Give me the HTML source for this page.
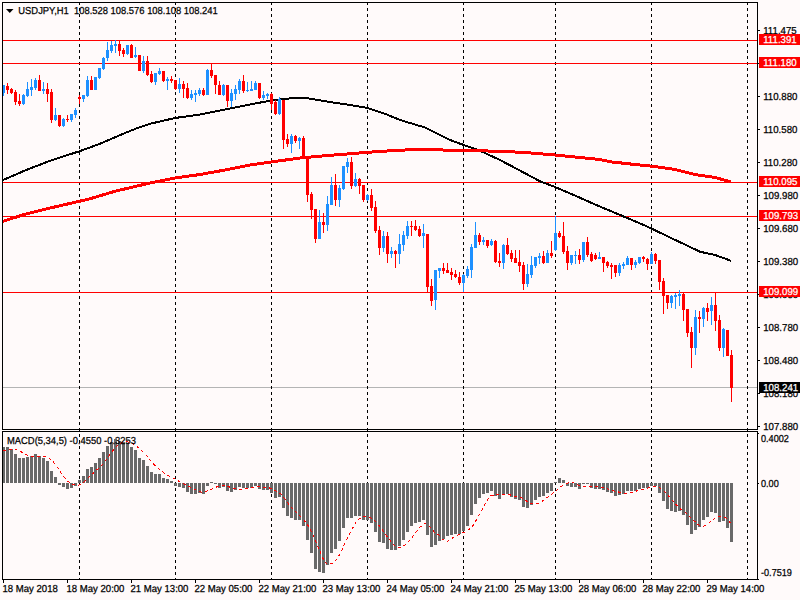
<!DOCTYPE html>
<html><head><meta charset="utf-8"><title>USDJPY,H1</title>
<style>
html,body{margin:0;padding:0;background:#fffafa;}
body{width:800px;height:600px;overflow:hidden;}
svg{display:block;}
text{font-family:"Liberation Sans",sans-serif;font-size:10.15px;fill:#000;stroke:#000;stroke-width:0.25px;text-rendering:geometricPrecision;}
.w{fill:#fff;stroke:#fff;}
.ce{shape-rendering:crispEdges;}
</style></head><body>
<svg width="800" height="600" viewBox="0 0 800 600">
<rect x="0" y="0" width="800" height="600" fill="#fffafa"/>
<rect class="ce" x="3" y="387" width="754" height="1" fill="#b4b4b4"/>
<g class="ce">
<line x1="79.5" y1="2" x2="79.5" y2="580" stroke="#000" stroke-width="1" stroke-dasharray="3 3"/>
<line x1="175.5" y1="2" x2="175.5" y2="580" stroke="#000" stroke-width="1" stroke-dasharray="3 3"/>
<line x1="271.5" y1="2" x2="271.5" y2="580" stroke="#000" stroke-width="1" stroke-dasharray="3 3"/>
<line x1="367.5" y1="2" x2="367.5" y2="580" stroke="#000" stroke-width="1" stroke-dasharray="3 3"/>
<line x1="463.5" y1="2" x2="463.5" y2="580" stroke="#000" stroke-width="1" stroke-dasharray="3 3"/>
<line x1="555.5" y1="2" x2="555.5" y2="580" stroke="#000" stroke-width="1" stroke-dasharray="3 3"/>
<line x1="651.5" y1="2" x2="651.5" y2="580" stroke="#000" stroke-width="1" stroke-dasharray="3 3"/>
<line x1="747.5" y1="2" x2="747.5" y2="580" stroke="#000" stroke-width="1" stroke-dasharray="3 3"/>
</g>
<rect class="ce" x="3" y="40" width="754" height="1" fill="#ff0000"/>
<rect class="ce" x="3" y="63" width="754" height="1" fill="#ff0000"/>
<rect class="ce" x="3" y="182" width="754" height="1" fill="#ff0000"/>
<rect class="ce" x="3" y="216" width="754" height="1" fill="#ff0000"/>
<rect class="ce" x="3" y="292" width="754" height="1" fill="#ff0000"/>
<path class="ce" d="M3.00 180.00 L25.00 170.50 L50.00 160.75 L79.50 151.25 L100.00 143.75 L125.00 133.00 L137.50 128.00 L150.00 123.75 L175.00 118.00 L200.00 114.50 L225.00 109.50 L250.00 104.50 L271.00 100.50 L285.00 98.75 L300.00 97.75 L307.50 98.25 L325.00 101.25 L350.00 105.00 L367.50 108.00 L385.00 113.75 L400.00 120.00 L425.00 127.50 L450.00 140.00 L463.75 145.00 L480.00 150.75 L500.00 160.00 L525.00 173.25 L540.00 181.25 L555.00 187.00 L575.00 195.50 L595.00 204.50 L610.00 210.75 L635.00 221.25 L651.00 228.25 L672.50 238.75 L685.00 244.50 L700.00 251.75 L715.00 255.00 L731.00 260.75" fill="none" stroke="#000" stroke-width="2" stroke-linejoin="round"/>
<path class="ce" d="M3.00 221.25 L25.00 214.25 L50.00 208.00 L79.50 201.25 L90.00 198.75 L115.00 191.25 L150.00 183.00 L175.00 178.00 L200.00 174.50 L225.00 170.00 L250.00 165.00 L271.00 162.00 L300.00 158.00 L325.00 155.75 L350.00 153.75 L375.00 151.75 L400.00 150.25 L420.00 149.25 L450.00 150.25 L475.00 150.75 L500.00 151.25 L525.00 152.50 L555.00 155.00 L575.00 157.00 L600.00 159.50 L610.00 161.75 L635.00 164.50 L655.00 166.50 L675.00 169.50 L695.00 174.50 L715.00 177.50 L731.00 182.00" fill="none" stroke="#ff0000" stroke-width="3" stroke-linejoin="round"/>
<g class="ce">
<rect x="3" y="85" width="1" height="11" fill="#1e90ff"/>
<rect x="2" y="85" width="3" height="8" fill="#1e90ff"/>
<rect x="7" y="83" width="1" height="11" fill="#ff0000"/>
<rect x="6" y="86" width="3" height="4" fill="#ff0000"/>
<rect x="11" y="88" width="1" height="6" fill="#ff0000"/>
<rect x="10" y="89" width="3" height="4" fill="#ff0000"/>
<rect x="15" y="90" width="1" height="15" fill="#ff0000"/>
<rect x="14" y="92" width="3" height="10" fill="#ff0000"/>
<rect x="19" y="94" width="1" height="12" fill="#ff0000"/>
<rect x="18" y="101" width="3" height="3" fill="#ff0000"/>
<rect x="23" y="94" width="1" height="11" fill="#1e90ff"/>
<rect x="22" y="95" width="3" height="9" fill="#1e90ff"/>
<rect x="27" y="82" width="1" height="15" fill="#1e90ff"/>
<rect x="26" y="89" width="3" height="7" fill="#1e90ff"/>
<rect x="31" y="79" width="1" height="17" fill="#1e90ff"/>
<rect x="30" y="87" width="3" height="3" fill="#1e90ff"/>
<rect x="35" y="78" width="1" height="12" fill="#1e90ff"/>
<rect x="34" y="80" width="3" height="8" fill="#1e90ff"/>
<rect x="39" y="75" width="1" height="16" fill="#ff0000"/>
<rect x="38" y="80" width="3" height="11" fill="#ff0000"/>
<rect x="43" y="82" width="1" height="12" fill="#1e90ff"/>
<rect x="42" y="89" width="3" height="2" fill="#1e90ff"/>
<rect x="47" y="83" width="1" height="19" fill="#ff0000"/>
<rect x="46" y="89" width="3" height="5" fill="#ff0000"/>
<rect x="51" y="89" width="1" height="34" fill="#ff0000"/>
<rect x="50" y="92" width="3" height="28" fill="#ff0000"/>
<rect x="55" y="108" width="1" height="13" fill="#1e90ff"/>
<rect x="54" y="115" width="3" height="5" fill="#1e90ff"/>
<rect x="59" y="115" width="1" height="12" fill="#ff0000"/>
<rect x="58" y="115" width="3" height="11" fill="#ff0000"/>
<rect x="63" y="118" width="1" height="9" fill="#1e90ff"/>
<rect x="62" y="119" width="3" height="7" fill="#1e90ff"/>
<rect x="67" y="115" width="1" height="7" fill="#ff0000"/>
<rect x="66" y="119" width="3" height="1" fill="#ff0000"/>
<rect x="71" y="114" width="1" height="8" fill="#1e90ff"/>
<rect x="70" y="114" width="3" height="6" fill="#1e90ff"/>
<rect x="75" y="108" width="1" height="10" fill="#1e90ff"/>
<rect x="74" y="110" width="3" height="5" fill="#1e90ff"/>
<rect x="79" y="95" width="1" height="9" fill="#ff0000"/>
<rect x="78" y="97" width="3" height="2" fill="#ff0000"/>
<rect x="83" y="95" width="1" height="7" fill="#1e90ff"/>
<rect x="82" y="95" width="3" height="4" fill="#1e90ff"/>
<rect x="87" y="76" width="1" height="21" fill="#1e90ff"/>
<rect x="86" y="80" width="3" height="16" fill="#1e90ff"/>
<rect x="91" y="76" width="1" height="14" fill="#ff0000"/>
<rect x="90" y="80" width="3" height="10" fill="#ff0000"/>
<rect x="95" y="77" width="1" height="13" fill="#1e90ff"/>
<rect x="94" y="77" width="3" height="13" fill="#1e90ff"/>
<rect x="99" y="68" width="1" height="11" fill="#1e90ff"/>
<rect x="98" y="68" width="3" height="10" fill="#1e90ff"/>
<rect x="103" y="57" width="1" height="13" fill="#1e90ff"/>
<rect x="102" y="58" width="3" height="11" fill="#1e90ff"/>
<rect x="107" y="42" width="1" height="19" fill="#1e90ff"/>
<rect x="106" y="50" width="3" height="8" fill="#1e90ff"/>
<rect x="111" y="41" width="1" height="12" fill="#1e90ff"/>
<rect x="110" y="45" width="3" height="6" fill="#1e90ff"/>
<rect x="115" y="40" width="1" height="13" fill="#1e90ff"/>
<rect x="114" y="44" width="3" height="2" fill="#1e90ff"/>
<rect x="119" y="41" width="1" height="15" fill="#ff0000"/>
<rect x="118" y="44" width="3" height="7" fill="#ff0000"/>
<rect x="123" y="48" width="1" height="9" fill="#ff0000"/>
<rect x="122" y="50" width="3" height="4" fill="#ff0000"/>
<rect x="127" y="45" width="1" height="10" fill="#1e90ff"/>
<rect x="126" y="45" width="3" height="9" fill="#1e90ff"/>
<rect x="131" y="44" width="1" height="14" fill="#ff0000"/>
<rect x="130" y="45" width="3" height="13" fill="#ff0000"/>
<rect x="135" y="47" width="1" height="11" fill="#1e90ff"/>
<rect x="134" y="55" width="3" height="2" fill="#1e90ff"/>
<rect x="139" y="55" width="1" height="16" fill="#ff0000"/>
<rect x="138" y="55" width="3" height="16" fill="#ff0000"/>
<rect x="143" y="56" width="1" height="17" fill="#1e90ff"/>
<rect x="142" y="61" width="3" height="10" fill="#1e90ff"/>
<rect x="147" y="56" width="1" height="20" fill="#ff0000"/>
<rect x="146" y="61" width="3" height="14" fill="#ff0000"/>
<rect x="151" y="71" width="1" height="12" fill="#ff0000"/>
<rect x="150" y="74" width="3" height="8" fill="#ff0000"/>
<rect x="155" y="73" width="1" height="12" fill="#1e90ff"/>
<rect x="154" y="73" width="3" height="9" fill="#1e90ff"/>
<rect x="159" y="68" width="1" height="7" fill="#1e90ff"/>
<rect x="158" y="71" width="3" height="3" fill="#1e90ff"/>
<rect x="163" y="71" width="1" height="11" fill="#ff0000"/>
<rect x="162" y="71" width="3" height="10" fill="#ff0000"/>
<rect x="167" y="77" width="1" height="13" fill="#1e90ff"/>
<rect x="166" y="79" width="3" height="2" fill="#1e90ff"/>
<rect x="171" y="76" width="1" height="7" fill="#ff0000"/>
<rect x="170" y="79" width="3" height="2" fill="#ff0000"/>
<rect x="175" y="80" width="1" height="10" fill="#ff0000"/>
<rect x="174" y="80" width="3" height="9" fill="#ff0000"/>
<rect x="179" y="78" width="1" height="15" fill="#1e90ff"/>
<rect x="178" y="84" width="3" height="5" fill="#1e90ff"/>
<rect x="183" y="81" width="1" height="17" fill="#ff0000"/>
<rect x="182" y="84" width="3" height="5" fill="#ff0000"/>
<rect x="187" y="83" width="1" height="16" fill="#ff0000"/>
<rect x="186" y="88" width="3" height="10" fill="#ff0000"/>
<rect x="191" y="90" width="1" height="10" fill="#1e90ff"/>
<rect x="190" y="94" width="3" height="4" fill="#1e90ff"/>
<rect x="195" y="90" width="1" height="12" fill="#1e90ff"/>
<rect x="194" y="93" width="3" height="2" fill="#1e90ff"/>
<rect x="199" y="88" width="1" height="8" fill="#1e90ff"/>
<rect x="198" y="90" width="3" height="4" fill="#1e90ff"/>
<rect x="203" y="88" width="1" height="8" fill="#ff0000"/>
<rect x="202" y="90" width="3" height="5" fill="#ff0000"/>
<rect x="207" y="69" width="1" height="26" fill="#1e90ff"/>
<rect x="206" y="70" width="3" height="25" fill="#1e90ff"/>
<rect x="211" y="64" width="1" height="14" fill="#ff0000"/>
<rect x="210" y="70" width="3" height="6" fill="#ff0000"/>
<rect x="215" y="75" width="1" height="19" fill="#ff0000"/>
<rect x="214" y="75" width="3" height="10" fill="#ff0000"/>
<rect x="219" y="81" width="1" height="14" fill="#ff0000"/>
<rect x="218" y="85" width="3" height="10" fill="#ff0000"/>
<rect x="223" y="84" width="1" height="12" fill="#1e90ff"/>
<rect x="222" y="85" width="3" height="10" fill="#1e90ff"/>
<rect x="227" y="85" width="1" height="22" fill="#ff0000"/>
<rect x="226" y="85" width="3" height="16" fill="#ff0000"/>
<rect x="231" y="89" width="1" height="18" fill="#1e90ff"/>
<rect x="230" y="93" width="3" height="8" fill="#1e90ff"/>
<rect x="235" y="85" width="1" height="15" fill="#1e90ff"/>
<rect x="234" y="89" width="3" height="5" fill="#1e90ff"/>
<rect x="239" y="79" width="1" height="15" fill="#1e90ff"/>
<rect x="238" y="81" width="3" height="9" fill="#1e90ff"/>
<rect x="243" y="75" width="1" height="18" fill="#ff0000"/>
<rect x="242" y="81" width="3" height="10" fill="#ff0000"/>
<rect x="247" y="82" width="1" height="10" fill="#1e90ff"/>
<rect x="246" y="90" width="3" height="1" fill="#1e90ff"/>
<rect x="251" y="81" width="1" height="10" fill="#1e90ff"/>
<rect x="250" y="89" width="3" height="2" fill="#1e90ff"/>
<rect x="255" y="81" width="1" height="9" fill="#1e90ff"/>
<rect x="254" y="83" width="3" height="7" fill="#1e90ff"/>
<rect x="259" y="83" width="1" height="16" fill="#ff0000"/>
<rect x="258" y="83" width="3" height="15" fill="#ff0000"/>
<rect x="263" y="91" width="1" height="9" fill="#1e90ff"/>
<rect x="262" y="95" width="3" height="3" fill="#1e90ff"/>
<rect x="267" y="93" width="1" height="6" fill="#1e90ff"/>
<rect x="266" y="94" width="3" height="2" fill="#1e90ff"/>
<rect x="271" y="93" width="1" height="17" fill="#ff0000"/>
<rect x="270" y="94" width="3" height="10" fill="#ff0000"/>
<rect x="275" y="100" width="1" height="15" fill="#ff0000"/>
<rect x="274" y="102" width="3" height="12" fill="#ff0000"/>
<rect x="279" y="97" width="1" height="18" fill="#1e90ff"/>
<rect x="278" y="99" width="3" height="15" fill="#1e90ff"/>
<rect x="283" y="100" width="1" height="49" fill="#ff0000"/>
<rect x="282" y="100" width="3" height="40" fill="#ff0000"/>
<rect x="287" y="134" width="1" height="13" fill="#ff0000"/>
<rect x="286" y="139" width="3" height="5" fill="#ff0000"/>
<rect x="291" y="134" width="1" height="19" fill="#1e90ff"/>
<rect x="290" y="136" width="3" height="8" fill="#1e90ff"/>
<rect x="295" y="135" width="1" height="8" fill="#ff0000"/>
<rect x="294" y="136" width="3" height="5" fill="#ff0000"/>
<rect x="299" y="137" width="1" height="12" fill="#1e90ff"/>
<rect x="298" y="138" width="3" height="3" fill="#1e90ff"/>
<rect x="303" y="136" width="1" height="22" fill="#ff0000"/>
<rect x="302" y="138" width="3" height="20" fill="#ff0000"/>
<rect x="307" y="157" width="1" height="45" fill="#ff0000"/>
<rect x="306" y="157" width="3" height="38" fill="#ff0000"/>
<rect x="311" y="192" width="1" height="27" fill="#ff0000"/>
<rect x="310" y="194" width="3" height="16" fill="#ff0000"/>
<rect x="315" y="209" width="1" height="34" fill="#ff0000"/>
<rect x="314" y="209" width="3" height="30" fill="#ff0000"/>
<rect x="319" y="210" width="1" height="29" fill="#1e90ff"/>
<rect x="318" y="222" width="3" height="17" fill="#1e90ff"/>
<rect x="323" y="213" width="1" height="20" fill="#ff0000"/>
<rect x="322" y="222" width="3" height="3" fill="#ff0000"/>
<rect x="327" y="196" width="1" height="35" fill="#1e90ff"/>
<rect x="326" y="204" width="3" height="21" fill="#1e90ff"/>
<rect x="331" y="177" width="1" height="28" fill="#1e90ff"/>
<rect x="330" y="185" width="3" height="20" fill="#1e90ff"/>
<rect x="335" y="174" width="1" height="32" fill="#ff0000"/>
<rect x="334" y="185" width="3" height="15" fill="#ff0000"/>
<rect x="339" y="185" width="1" height="22" fill="#1e90ff"/>
<rect x="338" y="188" width="3" height="12" fill="#1e90ff"/>
<rect x="343" y="166" width="1" height="24" fill="#1e90ff"/>
<rect x="342" y="166" width="3" height="23" fill="#1e90ff"/>
<rect x="347" y="158" width="1" height="15" fill="#1e90ff"/>
<rect x="346" y="162" width="3" height="5" fill="#1e90ff"/>
<rect x="351" y="157" width="1" height="32" fill="#ff0000"/>
<rect x="350" y="162" width="3" height="24" fill="#ff0000"/>
<rect x="355" y="173" width="1" height="14" fill="#1e90ff"/>
<rect x="354" y="179" width="3" height="7" fill="#1e90ff"/>
<rect x="359" y="178" width="1" height="16" fill="#ff0000"/>
<rect x="358" y="179" width="3" height="7" fill="#ff0000"/>
<rect x="363" y="185" width="1" height="17" fill="#ff0000"/>
<rect x="362" y="185" width="3" height="15" fill="#ff0000"/>
<rect x="367" y="194" width="1" height="7" fill="#1e90ff"/>
<rect x="366" y="195" width="3" height="5" fill="#1e90ff"/>
<rect x="371" y="189" width="1" height="22" fill="#ff0000"/>
<rect x="370" y="195" width="3" height="13" fill="#ff0000"/>
<rect x="375" y="201" width="1" height="32" fill="#ff0000"/>
<rect x="374" y="207" width="3" height="24" fill="#ff0000"/>
<rect x="379" y="226" width="1" height="29" fill="#ff0000"/>
<rect x="378" y="230" width="3" height="18" fill="#ff0000"/>
<rect x="383" y="231" width="1" height="21" fill="#1e90ff"/>
<rect x="382" y="236" width="3" height="12" fill="#1e90ff"/>
<rect x="387" y="232" width="1" height="31" fill="#ff0000"/>
<rect x="386" y="236" width="3" height="18" fill="#ff0000"/>
<rect x="391" y="247" width="1" height="11" fill="#1e90ff"/>
<rect x="390" y="251" width="3" height="3" fill="#1e90ff"/>
<rect x="395" y="250" width="1" height="18" fill="#ff0000"/>
<rect x="394" y="251" width="3" height="3" fill="#ff0000"/>
<rect x="399" y="234" width="1" height="30" fill="#1e90ff"/>
<rect x="398" y="244" width="3" height="10" fill="#1e90ff"/>
<rect x="403" y="231" width="1" height="20" fill="#1e90ff"/>
<rect x="402" y="235" width="3" height="10" fill="#1e90ff"/>
<rect x="407" y="221" width="1" height="18" fill="#1e90ff"/>
<rect x="406" y="226" width="3" height="10" fill="#1e90ff"/>
<rect x="411" y="221" width="1" height="15" fill="#ff0000"/>
<rect x="410" y="226" width="3" height="1" fill="#ff0000"/>
<rect x="415" y="220" width="1" height="11" fill="#ff0000"/>
<rect x="414" y="226" width="3" height="4" fill="#ff0000"/>
<rect x="419" y="226" width="1" height="11" fill="#ff0000"/>
<rect x="418" y="229" width="3" height="7" fill="#ff0000"/>
<rect x="423" y="224" width="1" height="24" fill="#1e90ff"/>
<rect x="422" y="233" width="3" height="3" fill="#1e90ff"/>
<rect x="427" y="234" width="1" height="59" fill="#ff0000"/>
<rect x="426" y="234" width="3" height="53" fill="#ff0000"/>
<rect x="431" y="279" width="1" height="27" fill="#ff0000"/>
<rect x="430" y="286" width="3" height="15" fill="#ff0000"/>
<rect x="435" y="270" width="1" height="40" fill="#1e90ff"/>
<rect x="434" y="270" width="3" height="30" fill="#1e90ff"/>
<rect x="439" y="268" width="1" height="10" fill="#1e90ff"/>
<rect x="438" y="268" width="3" height="3" fill="#1e90ff"/>
<rect x="443" y="263" width="1" height="11" fill="#ff0000"/>
<rect x="442" y="268" width="3" height="3" fill="#ff0000"/>
<rect x="447" y="263" width="1" height="10" fill="#ff0000"/>
<rect x="446" y="270" width="3" height="3" fill="#ff0000"/>
<rect x="451" y="268" width="1" height="12" fill="#ff0000"/>
<rect x="450" y="272" width="3" height="3" fill="#ff0000"/>
<rect x="455" y="270" width="1" height="8" fill="#ff0000"/>
<rect x="454" y="274" width="3" height="3" fill="#ff0000"/>
<rect x="459" y="272" width="1" height="13" fill="#ff0000"/>
<rect x="458" y="277" width="3" height="6" fill="#ff0000"/>
<rect x="463" y="274" width="1" height="18" fill="#1e90ff"/>
<rect x="462" y="275" width="3" height="8" fill="#1e90ff"/>
<rect x="467" y="266" width="1" height="12" fill="#1e90ff"/>
<rect x="466" y="269" width="3" height="7" fill="#1e90ff"/>
<rect x="471" y="244" width="1" height="34" fill="#1e90ff"/>
<rect x="470" y="247" width="3" height="23" fill="#1e90ff"/>
<rect x="475" y="222" width="1" height="26" fill="#1e90ff"/>
<rect x="474" y="235" width="3" height="13" fill="#1e90ff"/>
<rect x="479" y="233" width="1" height="12" fill="#ff0000"/>
<rect x="478" y="235" width="3" height="7" fill="#ff0000"/>
<rect x="483" y="237" width="1" height="8" fill="#1e90ff"/>
<rect x="482" y="240" width="3" height="2" fill="#1e90ff"/>
<rect x="487" y="240" width="1" height="8" fill="#ff0000"/>
<rect x="486" y="240" width="3" height="6" fill="#ff0000"/>
<rect x="491" y="239" width="1" height="7" fill="#1e90ff"/>
<rect x="490" y="241" width="3" height="4" fill="#1e90ff"/>
<rect x="495" y="240" width="1" height="23" fill="#ff0000"/>
<rect x="494" y="241" width="3" height="21" fill="#ff0000"/>
<rect x="499" y="253" width="1" height="14" fill="#ff0000"/>
<rect x="498" y="261" width="3" height="2" fill="#ff0000"/>
<rect x="503" y="244" width="1" height="25" fill="#1e90ff"/>
<rect x="502" y="245" width="3" height="18" fill="#1e90ff"/>
<rect x="507" y="238" width="1" height="17" fill="#ff0000"/>
<rect x="506" y="245" width="3" height="9" fill="#ff0000"/>
<rect x="511" y="250" width="1" height="12" fill="#ff0000"/>
<rect x="510" y="253" width="3" height="6" fill="#ff0000"/>
<rect x="515" y="250" width="1" height="13" fill="#ff0000"/>
<rect x="514" y="258" width="3" height="5" fill="#ff0000"/>
<rect x="519" y="250" width="1" height="22" fill="#ff0000"/>
<rect x="518" y="262" width="3" height="4" fill="#ff0000"/>
<rect x="523" y="262" width="1" height="28" fill="#ff0000"/>
<rect x="522" y="265" width="3" height="19" fill="#ff0000"/>
<rect x="527" y="264" width="1" height="23" fill="#1e90ff"/>
<rect x="526" y="274" width="3" height="10" fill="#1e90ff"/>
<rect x="531" y="256" width="1" height="22" fill="#1e90ff"/>
<rect x="530" y="265" width="3" height="10" fill="#1e90ff"/>
<rect x="535" y="257" width="1" height="11" fill="#1e90ff"/>
<rect x="534" y="257" width="3" height="9" fill="#1e90ff"/>
<rect x="539" y="253" width="1" height="11" fill="#1e90ff"/>
<rect x="538" y="256" width="3" height="2" fill="#1e90ff"/>
<rect x="543" y="251" width="1" height="13" fill="#ff0000"/>
<rect x="542" y="256" width="3" height="7" fill="#ff0000"/>
<rect x="547" y="250" width="1" height="13" fill="#1e90ff"/>
<rect x="546" y="253" width="3" height="10" fill="#1e90ff"/>
<rect x="551" y="241" width="1" height="17" fill="#ff0000"/>
<rect x="550" y="253" width="3" height="3" fill="#ff0000"/>
<rect x="555" y="216" width="1" height="35" fill="#1e90ff"/>
<rect x="554" y="233" width="3" height="17" fill="#1e90ff"/>
<rect x="559" y="231" width="1" height="7" fill="#ff0000"/>
<rect x="558" y="233" width="3" height="4" fill="#ff0000"/>
<rect x="563" y="222" width="1" height="32" fill="#ff0000"/>
<rect x="562" y="236" width="3" height="16" fill="#ff0000"/>
<rect x="567" y="246" width="1" height="24" fill="#ff0000"/>
<rect x="566" y="251" width="3" height="12" fill="#ff0000"/>
<rect x="571" y="255" width="1" height="10" fill="#1e90ff"/>
<rect x="570" y="255" width="3" height="8" fill="#1e90ff"/>
<rect x="575" y="251" width="1" height="13" fill="#1e90ff"/>
<rect x="574" y="255" width="3" height="1" fill="#1e90ff"/>
<rect x="579" y="249" width="1" height="15" fill="#ff0000"/>
<rect x="578" y="255" width="3" height="5" fill="#ff0000"/>
<rect x="583" y="242" width="1" height="20" fill="#1e90ff"/>
<rect x="582" y="242" width="3" height="18" fill="#1e90ff"/>
<rect x="587" y="237" width="1" height="20" fill="#ff0000"/>
<rect x="586" y="242" width="3" height="13" fill="#ff0000"/>
<rect x="591" y="252" width="1" height="10" fill="#ff0000"/>
<rect x="590" y="254" width="3" height="7" fill="#ff0000"/>
<rect x="595" y="253" width="1" height="7" fill="#ff0000"/>
<rect x="594" y="255" width="3" height="4" fill="#ff0000"/>
<rect x="599" y="252" width="1" height="7" fill="#1e90ff"/>
<rect x="598" y="257" width="3" height="2" fill="#1e90ff"/>
<rect x="603" y="257" width="1" height="15" fill="#ff0000"/>
<rect x="602" y="257" width="3" height="6" fill="#ff0000"/>
<rect x="607" y="261" width="1" height="7" fill="#ff0000"/>
<rect x="606" y="262" width="3" height="4" fill="#ff0000"/>
<rect x="611" y="263" width="1" height="16" fill="#ff0000"/>
<rect x="610" y="265" width="3" height="2" fill="#ff0000"/>
<rect x="615" y="265" width="1" height="12" fill="#ff0000"/>
<rect x="614" y="265" width="3" height="8" fill="#ff0000"/>
<rect x="619" y="263" width="1" height="13" fill="#1e90ff"/>
<rect x="618" y="265" width="3" height="8" fill="#1e90ff"/>
<rect x="623" y="262" width="1" height="7" fill="#1e90ff"/>
<rect x="622" y="264" width="3" height="2" fill="#1e90ff"/>
<rect x="627" y="256" width="1" height="9" fill="#1e90ff"/>
<rect x="626" y="258" width="3" height="7" fill="#1e90ff"/>
<rect x="631" y="258" width="1" height="12" fill="#ff0000"/>
<rect x="630" y="258" width="3" height="7" fill="#ff0000"/>
<rect x="635" y="260" width="1" height="8" fill="#1e90ff"/>
<rect x="634" y="262" width="3" height="3" fill="#1e90ff"/>
<rect x="639" y="257" width="1" height="7" fill="#1e90ff"/>
<rect x="638" y="257" width="3" height="6" fill="#1e90ff"/>
<rect x="643" y="256" width="1" height="6" fill="#ff0000"/>
<rect x="642" y="257" width="3" height="2" fill="#ff0000"/>
<rect x="647" y="258" width="1" height="12" fill="#ff0000"/>
<rect x="646" y="259" width="3" height="5" fill="#ff0000"/>
<rect x="651" y="252" width="1" height="12" fill="#1e90ff"/>
<rect x="650" y="254" width="3" height="10" fill="#1e90ff"/>
<rect x="655" y="253" width="1" height="11" fill="#ff0000"/>
<rect x="654" y="254" width="3" height="7" fill="#ff0000"/>
<rect x="659" y="260" width="1" height="30" fill="#ff0000"/>
<rect x="658" y="260" width="3" height="22" fill="#ff0000"/>
<rect x="663" y="278" width="1" height="36" fill="#ff0000"/>
<rect x="662" y="281" width="3" height="15" fill="#ff0000"/>
<rect x="667" y="295" width="1" height="14" fill="#ff0000"/>
<rect x="666" y="295" width="3" height="8" fill="#ff0000"/>
<rect x="671" y="295" width="1" height="13" fill="#1e90ff"/>
<rect x="670" y="296" width="3" height="7" fill="#1e90ff"/>
<rect x="675" y="293" width="1" height="16" fill="#1e90ff"/>
<rect x="674" y="295" width="3" height="2" fill="#1e90ff"/>
<rect x="679" y="290" width="1" height="16" fill="#1e90ff"/>
<rect x="678" y="294" width="3" height="2" fill="#1e90ff"/>
<rect x="683" y="293" width="1" height="28" fill="#ff0000"/>
<rect x="682" y="294" width="3" height="16" fill="#ff0000"/>
<rect x="687" y="309" width="1" height="28" fill="#ff0000"/>
<rect x="686" y="309" width="3" height="24" fill="#ff0000"/>
<rect x="691" y="327" width="1" height="41" fill="#ff0000"/>
<rect x="690" y="332" width="3" height="16" fill="#ff0000"/>
<rect x="695" y="310" width="1" height="45" fill="#1e90ff"/>
<rect x="694" y="317" width="3" height="31" fill="#1e90ff"/>
<rect x="699" y="311" width="1" height="22" fill="#ff0000"/>
<rect x="698" y="317" width="3" height="2" fill="#ff0000"/>
<rect x="703" y="307" width="1" height="20" fill="#1e90ff"/>
<rect x="702" y="308" width="3" height="11" fill="#1e90ff"/>
<rect x="707" y="303" width="1" height="18" fill="#ff0000"/>
<rect x="706" y="308" width="3" height="4" fill="#ff0000"/>
<rect x="711" y="297" width="1" height="28" fill="#1e90ff"/>
<rect x="710" y="305" width="3" height="6" fill="#1e90ff"/>
<rect x="715" y="293" width="1" height="38" fill="#ff0000"/>
<rect x="714" y="305" width="3" height="16" fill="#ff0000"/>
<rect x="719" y="315" width="1" height="36" fill="#ff0000"/>
<rect x="718" y="320" width="3" height="28" fill="#ff0000"/>
<rect x="723" y="328" width="1" height="29" fill="#1e90ff"/>
<rect x="722" y="329" width="3" height="19" fill="#1e90ff"/>
<rect x="727" y="330" width="1" height="26" fill="#ff0000"/>
<rect x="726" y="330" width="3" height="26" fill="#ff0000"/>
<rect x="731" y="350" width="1" height="52" fill="#ff0000"/>
<rect x="730" y="355" width="3" height="33" fill="#ff0000"/>
</g>
<g class="ce" fill="#696969">
<rect x="2" y="447" width="3" height="36"/>
<rect x="6" y="447" width="3" height="36"/>
<rect x="10" y="449" width="3" height="34"/>
<rect x="14" y="454" width="3" height="29"/>
<rect x="18" y="458" width="3" height="25"/>
<rect x="22" y="458" width="3" height="25"/>
<rect x="26" y="457" width="3" height="26"/>
<rect x="30" y="456" width="3" height="27"/>
<rect x="34" y="454" width="3" height="29"/>
<rect x="38" y="456" width="3" height="27"/>
<rect x="42" y="458" width="3" height="25"/>
<rect x="46" y="461" width="3" height="22"/>
<rect x="50" y="471" width="3" height="12"/>
<rect x="54" y="477" width="3" height="6"/>
<rect x="58" y="483" width="3" height="2"/>
<rect x="62" y="483" width="3" height="4"/>
<rect x="66" y="483" width="3" height="6"/>
<rect x="70" y="483" width="3" height="5"/>
<rect x="74" y="483" width="3" height="3"/>
<rect x="78" y="480" width="3" height="3"/>
<rect x="82" y="476" width="3" height="7"/>
<rect x="86" y="469" width="3" height="14"/>
<rect x="90" y="467" width="3" height="16"/>
<rect x="94" y="463" width="3" height="20"/>
<rect x="98" y="458" width="3" height="25"/>
<rect x="102" y="452" width="3" height="31"/>
<rect x="106" y="446" width="3" height="37"/>
<rect x="110" y="442" width="3" height="41"/>
<rect x="114" y="439" width="3" height="44"/>
<rect x="118" y="441" width="3" height="42"/>
<rect x="122" y="442" width="3" height="41"/>
<rect x="126" y="443" width="3" height="40"/>
<rect x="130" y="447" width="3" height="36"/>
<rect x="134" y="450" width="3" height="33"/>
<rect x="138" y="458" width="3" height="25"/>
<rect x="142" y="460" width="3" height="23"/>
<rect x="146" y="466" width="3" height="17"/>
<rect x="150" y="472" width="3" height="11"/>
<rect x="154" y="474" width="3" height="9"/>
<rect x="158" y="474" width="3" height="9"/>
<rect x="162" y="478" width="3" height="5"/>
<rect x="166" y="479" width="3" height="4"/>
<rect x="170" y="481" width="3" height="2"/>
<rect x="174" y="483" width="3" height="3"/>
<rect x="178" y="483" width="3" height="4"/>
<rect x="182" y="483" width="3" height="5"/>
<rect x="186" y="483" width="3" height="9"/>
<rect x="190" y="483" width="3" height="11"/>
<rect x="194" y="483" width="3" height="11"/>
<rect x="198" y="483" width="3" height="10"/>
<rect x="202" y="483" width="3" height="11"/>
<rect x="206" y="483" width="3" height="3"/>
<rect x="210" y="482" width="3" height="1"/>
<rect x="214" y="483" width="3" height="1"/>
<rect x="218" y="483" width="3" height="5"/>
<rect x="222" y="483" width="3" height="4"/>
<rect x="226" y="483" width="3" height="8"/>
<rect x="230" y="483" width="3" height="9"/>
<rect x="234" y="483" width="3" height="7"/>
<rect x="238" y="483" width="3" height="4"/>
<rect x="242" y="483" width="3" height="5"/>
<rect x="246" y="483" width="3" height="5"/>
<rect x="250" y="483" width="3" height="5"/>
<rect x="254" y="483" width="3" height="3"/>
<rect x="258" y="483" width="3" height="6"/>
<rect x="262" y="483" width="3" height="7"/>
<rect x="266" y="483" width="3" height="7"/>
<rect x="270" y="483" width="3" height="10"/>
<rect x="274" y="483" width="3" height="15"/>
<rect x="278" y="483" width="3" height="14"/>
<rect x="282" y="483" width="3" height="25"/>
<rect x="286" y="483" width="3" height="33"/>
<rect x="290" y="483" width="3" height="35"/>
<rect x="294" y="483" width="3" height="37"/>
<rect x="298" y="483" width="3" height="37"/>
<rect x="302" y="483" width="3" height="43"/>
<rect x="306" y="483" width="3" height="57"/>
<rect x="310" y="483" width="3" height="70"/>
<rect x="314" y="483" width="3" height="86"/>
<rect x="318" y="483" width="3" height="89"/>
<rect x="322" y="483" width="3" height="90"/>
<rect x="326" y="483" width="3" height="82"/>
<rect x="330" y="483" width="3" height="70"/>
<rect x="334" y="483" width="3" height="66"/>
<rect x="338" y="483" width="3" height="58"/>
<rect x="342" y="483" width="3" height="45"/>
<rect x="346" y="483" width="3" height="35"/>
<rect x="350" y="483" width="3" height="35"/>
<rect x="354" y="483" width="3" height="33"/>
<rect x="358" y="483" width="3" height="33"/>
<rect x="362" y="483" width="3" height="37"/>
<rect x="366" y="483" width="3" height="37"/>
<rect x="370" y="483" width="3" height="40"/>
<rect x="374" y="483" width="3" height="49"/>
<rect x="378" y="483" width="3" height="59"/>
<rect x="382" y="483" width="3" height="60"/>
<rect x="386" y="483" width="3" height="66"/>
<rect x="390" y="483" width="3" height="67"/>
<rect x="394" y="483" width="3" height="67"/>
<rect x="398" y="483" width="3" height="63"/>
<rect x="402" y="483" width="3" height="57"/>
<rect x="406" y="483" width="3" height="49"/>
<rect x="410" y="483" width="3" height="43"/>
<rect x="414" y="483" width="3" height="40"/>
<rect x="418" y="483" width="3" height="39"/>
<rect x="422" y="483" width="3" height="37"/>
<rect x="426" y="483" width="3" height="52"/>
<rect x="430" y="483" width="3" height="64"/>
<rect x="434" y="483" width="3" height="62"/>
<rect x="438" y="483" width="3" height="58"/>
<rect x="442" y="483" width="3" height="56"/>
<rect x="446" y="483" width="3" height="53"/>
<rect x="450" y="483" width="3" height="52"/>
<rect x="454" y="483" width="3" height="51"/>
<rect x="458" y="483" width="3" height="51"/>
<rect x="462" y="483" width="3" height="48"/>
<rect x="466" y="483" width="3" height="43"/>
<rect x="470" y="483" width="3" height="32"/>
<rect x="474" y="483" width="3" height="21"/>
<rect x="478" y="483" width="3" height="15"/>
<rect x="482" y="483" width="3" height="11"/>
<rect x="486" y="483" width="3" height="10"/>
<rect x="490" y="483" width="3" height="8"/>
<rect x="494" y="483" width="3" height="13"/>
<rect x="498" y="483" width="3" height="16"/>
<rect x="502" y="483" width="3" height="12"/>
<rect x="506" y="483" width="3" height="11"/>
<rect x="510" y="483" width="3" height="14"/>
<rect x="514" y="483" width="3" height="16"/>
<rect x="518" y="483" width="3" height="17"/>
<rect x="522" y="483" width="3" height="24"/>
<rect x="526" y="483" width="3" height="25"/>
<rect x="530" y="483" width="3" height="22"/>
<rect x="534" y="483" width="3" height="17"/>
<rect x="538" y="483" width="3" height="14"/>
<rect x="542" y="483" width="3" height="13"/>
<rect x="546" y="483" width="3" height="10"/>
<rect x="550" y="483" width="3" height="8"/>
<rect x="554" y="482" width="3" height="1"/>
<rect x="558" y="478" width="3" height="5"/>
<rect x="562" y="480" width="3" height="3"/>
<rect x="566" y="483" width="3" height="3"/>
<rect x="570" y="483" width="3" height="4"/>
<rect x="574" y="483" width="3" height="4"/>
<rect x="578" y="483" width="3" height="6"/>
<rect x="582" y="483" width="3" height="1"/>
<rect x="586" y="483" width="3" height="1"/>
<rect x="590" y="483" width="3" height="5"/>
<rect x="594" y="483" width="3" height="6"/>
<rect x="598" y="483" width="3" height="6"/>
<rect x="602" y="483" width="3" height="7"/>
<rect x="606" y="483" width="3" height="9"/>
<rect x="610" y="483" width="3" height="10"/>
<rect x="614" y="483" width="3" height="13"/>
<rect x="618" y="483" width="3" height="12"/>
<rect x="622" y="483" width="3" height="11"/>
<rect x="626" y="483" width="3" height="8"/>
<rect x="630" y="483" width="3" height="8"/>
<rect x="634" y="483" width="3" height="8"/>
<rect x="638" y="483" width="3" height="6"/>
<rect x="642" y="483" width="3" height="5"/>
<rect x="646" y="483" width="3" height="5"/>
<rect x="650" y="483" width="3" height="3"/>
<rect x="654" y="483" width="3" height="3"/>
<rect x="658" y="483" width="3" height="10"/>
<rect x="662" y="483" width="3" height="18"/>
<rect x="666" y="483" width="3" height="26"/>
<rect x="670" y="483" width="3" height="28"/>
<rect x="674" y="483" width="3" height="29"/>
<rect x="678" y="483" width="3" height="28"/>
<rect x="682" y="483" width="3" height="32"/>
<rect x="686" y="483" width="3" height="42"/>
<rect x="690" y="483" width="3" height="51"/>
<rect x="694" y="483" width="3" height="47"/>
<rect x="698" y="483" width="3" height="44"/>
<rect x="702" y="483" width="3" height="37"/>
<rect x="706" y="483" width="3" height="34"/>
<rect x="710" y="483" width="3" height="29"/>
<rect x="714" y="483" width="3" height="30"/>
<rect x="718" y="483" width="3" height="39"/>
<rect x="722" y="483" width="3" height="38"/>
<rect x="726" y="483" width="3" height="45"/>
<rect x="730" y="483" width="3" height="59"/>
</g>
<path class="ce" d="M3.00 451.00 L7.50 449.40 L16.00 449.40 L22.50 452.50 L29.00 456.00 L35.00 457.00 L41.00 456.00 L47.50 457.00 L52.50 461.00 L57.50 467.50 L62.50 475.00 L67.50 481.00 L72.50 484.40 L77.50 485.60 L82.50 483.75 L87.50 478.75 L92.50 473.75 L96.00 470.60 L101.00 466.00 L106.00 460.00 L111.00 453.00 L116.00 447.00 L121.00 443.00 L127.00 441.50 L133.50 444.00 L140.00 448.75 L146.00 455.00 L152.00 462.50 L158.50 468.75 L165.00 473.75 L171.00 477.25 L176.00 479.40 L181.00 482.50 L186.00 485.00 L192.00 488.20 L197.00 490.60 L203.00 492.50 L209.50 490.00 L215.00 487.50 L222.00 485.25 L227.60 486.50 L233.00 488.00 L239.50 489.60 L245.75 488.75 L251.40 487.50 L257.00 486.50 L263.00 487.50 L269.50 488.00 L275.00 490.60 L281.40 494.40 L285.75 500.00 L290.00 506.00 L296.50 512.50 L302.00 518.00 L306.50 523.00 L310.00 529.00 L314.00 537.00 L318.00 547.00 L321.50 555.00 L324.00 560.60 L328.00 565.00 L334.00 562.50 L338.00 557.50 L341.50 551.00 L344.00 545.00 L346.50 540.00 L349.60 533.50 L352.75 528.00 L357.00 520.60 L362.75 516.50 L369.00 517.00 L374.00 520.00 L379.00 525.60 L383.75 532.00 L388.75 538.75 L393.75 545.00 L399.40 547.50 L405.60 544.75 L410.60 539.40 L415.60 532.50 L420.00 527.00 L425.00 523.50 L430.00 527.00 L435.00 533.00 L438.75 535.00 L442.50 539.40 L447.50 541.60 L453.75 537.00 L460.00 534.00 L466.25 531.50 L472.00 527.25 L476.25 520.00 L479.75 513.75 L483.50 507.00 L487.25 500.00 L491.00 495.60 L496.00 494.40 L502.25 494.40 L508.50 494.40 L514.75 496.25 L521.00 497.50 L526.00 500.60 L531.00 503.75 L538.50 503.50 L544.00 500.00 L549.75 495.60 L556.00 490.60 L562.25 485.60 L568.50 482.75 L573.25 482.50 L579.50 485.60 L586.40 486.50 L592.60 486.50 L598.25 486.50 L604.50 487.75 L610.75 490.25 L616.40 491.50 L622.60 493.00 L628.25 493.50 L634.50 491.60 L640.00 490.00 L646.40 488.50 L652.00 486.90 L655.00 485.90 L658.90 487.50 L664.50 491.25 L669.40 496.90 L675.00 503.75 L680.60 509.00 L686.25 513.00 L692.50 519.40 L698.75 525.00 L703.75 526.25 L710.00 522.25 L715.60 517.50 L721.90 516.25 L727.50 518.75 L730.60 523.50" fill="none" stroke="#ff0000" stroke-width="1" stroke-dasharray="3 3"/>
<rect class="ce" x="2" y="2" width="1" height="428" fill="#000"/>
<rect class="ce" x="2" y="431" width="1" height="149" fill="#000"/>
<rect class="ce" x="757" y="2" width="1" height="428" fill="#000"/>
<rect class="ce" x="757" y="431" width="1" height="149" fill="#000"/>
<rect class="ce" x="2" y="2" width="756" height="1" fill="#000"/>
<rect class="ce" x="2" y="429" width="756" height="1" fill="#000"/>
<rect class="ce" x="2" y="431" width="756" height="1" fill="#000"/>
<rect class="ce" x="2" y="579" width="756" height="1" fill="#000"/>
<rect class="ce" x="758" y="30" width="2" height="1" fill="#000"/>
<text transform="translate(763.2 34) scale(0.955 1)" xml:space="preserve">111.475</text>
<rect class="ce" x="758" y="63" width="2" height="1" fill="#000"/>
<text transform="translate(763.2 67) scale(0.955 1)" xml:space="preserve">111.180</text>
<rect class="ce" x="758" y="294" width="2" height="1" fill="#000"/>
<text transform="translate(763.2 298) scale(0.955 1)" xml:space="preserve">109.080</text>
<rect class="ce" x="758" y="96" width="2" height="1" fill="#000"/>
<text transform="translate(763.2 100) scale(0.955 1)" xml:space="preserve">110.880</text>
<rect class="ce" x="758" y="129" width="2" height="1" fill="#000"/>
<text transform="translate(763.2 133) scale(0.955 1)" xml:space="preserve">110.580</text>
<rect class="ce" x="758" y="162" width="2" height="1" fill="#000"/>
<text transform="translate(763.2 166) scale(0.955 1)" xml:space="preserve">110.280</text>
<rect class="ce" x="758" y="195" width="2" height="1" fill="#000"/>
<text transform="translate(763.2 199) scale(0.955 1)" xml:space="preserve">109.980</text>
<rect class="ce" x="758" y="228" width="2" height="1" fill="#000"/>
<text transform="translate(763.2 232) scale(0.955 1)" xml:space="preserve">109.680</text>
<rect class="ce" x="758" y="261" width="2" height="1" fill="#000"/>
<text transform="translate(763.2 265) scale(0.955 1)" xml:space="preserve">109.380</text>
<rect class="ce" x="758" y="327" width="2" height="1" fill="#000"/>
<text transform="translate(763.2 331) scale(0.955 1)" xml:space="preserve">108.780</text>
<rect class="ce" x="758" y="360" width="2" height="1" fill="#000"/>
<text transform="translate(763.2 364) scale(0.955 1)" xml:space="preserve">108.480</text>
<rect class="ce" x="758" y="393" width="2" height="1" fill="#000"/>
<text transform="translate(763.2 397) scale(0.955 1)" xml:space="preserve">108.180</text>
<rect class="ce" x="758" y="426" width="2" height="1" fill="#000"/>
<text transform="translate(763.2 430) scale(0.955 1)" xml:space="preserve">107.880</text>
<text transform="translate(761 442) scale(0.9 1)" xml:space="preserve">0.4002</text>
<text transform="translate(761 487) scale(0.9 1)" xml:space="preserve">0.00</text>
<text transform="translate(761 576) scale(0.9 1)" xml:space="preserve">-0.7519</text>
<rect class="ce" x="758" y="433" width="1" height="1" fill="#000"/>
<rect class="ce" x="758" y="483" width="1" height="1" fill="#000"/>
<rect class="ce" x="758" y="579" width="1" height="1" fill="#000"/>
<rect class="ce" x="759" y="34" width="41" height="11" fill="#ff0000"/>
<text class="w" transform="translate(763.2 43) scale(0.955 1)" xml:space="preserve">111.391</text>
<rect class="ce" x="759" y="57" width="41" height="11" fill="#ff0000"/>
<text class="w" transform="translate(763.2 66) scale(0.955 1)" xml:space="preserve">111.180</text>
<rect class="ce" x="759" y="176" width="41" height="11" fill="#ff0000"/>
<text class="w" transform="translate(763.2 185) scale(0.955 1)" xml:space="preserve">110.095</text>
<rect class="ce" x="759" y="210" width="41" height="11" fill="#ff0000"/>
<text class="w" transform="translate(763.2 219) scale(0.955 1)" xml:space="preserve">109.793</text>
<rect class="ce" x="759" y="286" width="41" height="11" fill="#ff0000"/>
<text class="w" transform="translate(763.2 295) scale(0.955 1)" xml:space="preserve">109.099</text>
<rect class="ce" x="759" y="382" width="41" height="11" fill="#000"/>
<text class="w" transform="translate(763.2 391) scale(0.955 1)" xml:space="preserve">108.241</text>
<path d="M6 9 L13.5 9 L9.75 13 Z" fill="#000"/>
<text transform="translate(18.3 14) scale(0.928 1)" xml:space="preserve">USDJPY,H1  108.528 108.576 108.108 108.241</text>
<text transform="translate(7 444) scale(0.927 1)" xml:space="preserve">MACD(5,34,5) -0.4550 -0.3253</text>
<rect class="ce" x="3" y="580" width="1" height="3" fill="#000"/>
<text transform="translate(2.5 592) scale(0.944 1)" xml:space="preserve">18 May 2018</text>
<rect class="ce" x="67" y="580" width="1" height="3" fill="#000"/>
<text transform="translate(66.5 592) scale(0.944 1)" xml:space="preserve">18 May 20:00</text>
<rect class="ce" x="131" y="580" width="1" height="3" fill="#000"/>
<text transform="translate(130.5 592) scale(0.944 1)" xml:space="preserve">21 May 13:00</text>
<rect class="ce" x="195" y="580" width="1" height="3" fill="#000"/>
<text transform="translate(194.5 592) scale(0.944 1)" xml:space="preserve">22 May 05:00</text>
<rect class="ce" x="259" y="580" width="1" height="3" fill="#000"/>
<text transform="translate(258.5 592) scale(0.944 1)" xml:space="preserve">22 May 21:00</text>
<rect class="ce" x="323" y="580" width="1" height="3" fill="#000"/>
<text transform="translate(322.5 592) scale(0.944 1)" xml:space="preserve">23 May 13:00</text>
<rect class="ce" x="387" y="580" width="1" height="3" fill="#000"/>
<text transform="translate(386.5 592) scale(0.944 1)" xml:space="preserve">24 May 05:00</text>
<rect class="ce" x="451" y="580" width="1" height="3" fill="#000"/>
<text transform="translate(450.5 592) scale(0.944 1)" xml:space="preserve">24 May 21:00</text>
<rect class="ce" x="515" y="580" width="1" height="3" fill="#000"/>
<text transform="translate(514.5 592) scale(0.944 1)" xml:space="preserve">25 May 13:00</text>
<rect class="ce" x="579" y="580" width="1" height="3" fill="#000"/>
<text transform="translate(578.5 592) scale(0.944 1)" xml:space="preserve">28 May 06:00</text>
<rect class="ce" x="643" y="580" width="1" height="3" fill="#000"/>
<text transform="translate(642.5 592) scale(0.944 1)" xml:space="preserve">28 May 22:00</text>
<rect class="ce" x="707" y="580" width="1" height="3" fill="#000"/>
<text transform="translate(706.5 592) scale(0.944 1)" xml:space="preserve">29 May 14:00</text>
</svg></body></html>
